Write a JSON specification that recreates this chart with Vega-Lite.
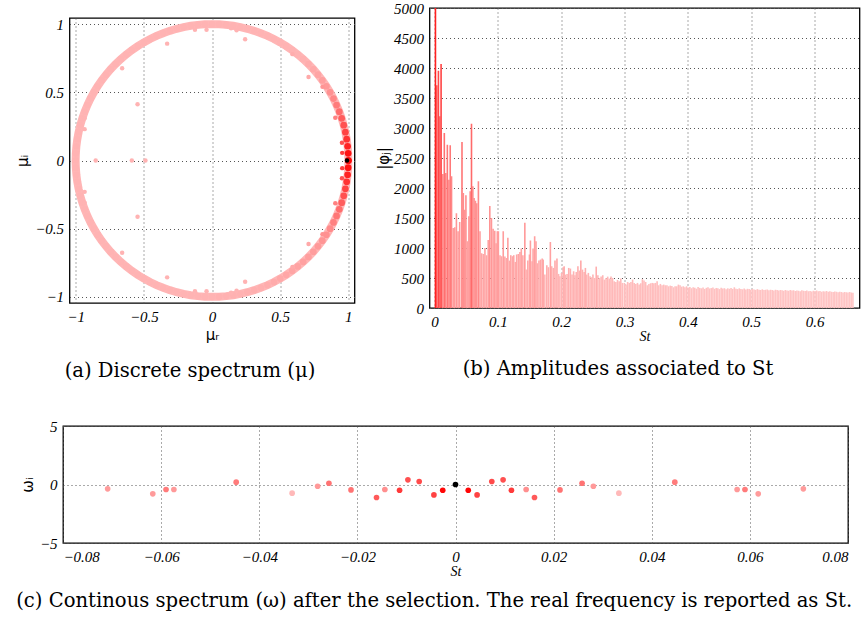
{
  "$schema": "https://vega.github.io/schema/vega-lite/v6.json",
  "background": "white",
  "padding": {"left": 12, "top": 0, "right": 0, "bottom": 0},
  "config": {
    "view": {"stroke": "black", "strokeWidth": 1.3},
    "style": {"guide-label": {"font": "Liberation Serif", "fontStyle": "italic", "fontSize": 15, "fill": "black"}},
    "axis": {"labelFont": "Liberation Serif", "labelFontStyle": "italic", "labelFontSize": 15, "labelColor": "black", "ticks": false, "domain": false, "grid": true, "gridColor": "#555", "gridDash": [1, 3], "gridWidth": 1, "titleFont": "DejaVu Sans", "titleFontWeight": "normal", "titleFontSize": 15, "titleColor": "black", "labelPadding": 6},
    "title": {"orient": "bottom", "font": "DejaVu Serif", "fontSize": 19.6, "fontWeight": "normal", "color": "black", "anchor": "middle", "frame": "bounds", "offset": 16}
  },
  "datasets": {
    "ring": [
      {"ang": 0, "x": 1, "y": 0, "a": 0.9},
      {"ang": 3, "x": 0.9986, "y": 0.0523, "a": 0.85},
      {"ang": 6, "x": 0.9945, "y": 0.1045, "a": 0.78},
      {"ang": 9, "x": 0.9877, "y": 0.1564, "a": 0.7},
      {"ang": 12, "x": 0.9781, "y": 0.2079, "a": 0.62},
      {"ang": 15, "x": 0.9659, "y": 0.2588, "a": 0.55},
      {"ang": 18, "x": 0.9511, "y": 0.309, "a": 0.48},
      {"ang": 21, "x": 0.9336, "y": 0.3584, "a": 0.4},
      {"ang": 24, "x": 0.9135, "y": 0.4067, "a": 0.33},
      {"ang": 27, "x": 0.891, "y": 0.454, "a": 0.27},
      {"ang": 30, "x": 0.866, "y": 0.5, "a": 0.22},
      {"ang": 33, "x": 0.8387, "y": 0.5446, "a": 0.18},
      {"ang": 36, "x": 0.809, "y": 0.5878, "a": 0.15},
      {"ang": 39, "x": 0.7771, "y": 0.6293, "a": 0.12},
      {"ang": 42, "x": 0.7431, "y": 0.6691, "a": 0.1},
      {"ang": 45, "x": 0.7071, "y": 0.7071, "a": 0.08},
      {"ang": 48, "x": 0.6691, "y": 0.7431, "a": 0.06},
      {"ang": 51, "x": 0.6293, "y": 0.7771, "a": 0.05},
      {"ang": 54, "x": 0.5878, "y": 0.809, "a": 0.05},
      {"ang": 57, "x": 0.5446, "y": 0.8387, "a": 0.05},
      {"ang": 60, "x": 0.5, "y": 0.866, "a": 0.05},
      {"ang": 63, "x": 0.454, "y": 0.891, "a": 0.05},
      {"ang": 66, "x": 0.4067, "y": 0.9135, "a": 0.05},
      {"ang": 69, "x": 0.3584, "y": 0.9336, "a": 0.05},
      {"ang": 72, "x": 0.309, "y": 0.9511, "a": 0.05},
      {"ang": 75, "x": 0.2588, "y": 0.9659, "a": 0.05},
      {"ang": 78, "x": 0.2079, "y": 0.9781, "a": 0.05},
      {"ang": 81, "x": 0.1564, "y": 0.9877, "a": 0.05},
      {"ang": 84, "x": 0.1045, "y": 0.9945, "a": 0.05},
      {"ang": 87, "x": 0.0523, "y": 0.9986, "a": 0.05},
      {"ang": 90, "x": 0, "y": 1, "a": 0.05},
      {"ang": 93, "x": -0.0523, "y": 0.9986, "a": 0.05},
      {"ang": 96, "x": -0.1045, "y": 0.9945, "a": 0.05},
      {"ang": 99, "x": -0.1564, "y": 0.9877, "a": 0.05},
      {"ang": 102, "x": -0.2079, "y": 0.9781, "a": 0.05},
      {"ang": 105, "x": -0.2588, "y": 0.9659, "a": 0.05},
      {"ang": 108, "x": -0.309, "y": 0.9511, "a": 0.05},
      {"ang": 111, "x": -0.3584, "y": 0.9336, "a": 0.05},
      {"ang": 114, "x": -0.4067, "y": 0.9135, "a": 0.05},
      {"ang": 117, "x": -0.454, "y": 0.891, "a": 0.05},
      {"ang": 120, "x": -0.5, "y": 0.866, "a": 0.05},
      {"ang": 123, "x": -0.5446, "y": 0.8387, "a": 0.05},
      {"ang": 126, "x": -0.5878, "y": 0.809, "a": 0.05},
      {"ang": 129, "x": -0.6293, "y": 0.7771, "a": 0.05},
      {"ang": 132, "x": -0.6691, "y": 0.7431, "a": 0.05},
      {"ang": 135, "x": -0.7071, "y": 0.7071, "a": 0.05},
      {"ang": 138, "x": -0.7431, "y": 0.6691, "a": 0.05},
      {"ang": 141, "x": -0.7771, "y": 0.6293, "a": 0.05},
      {"ang": 144, "x": -0.809, "y": 0.5878, "a": 0.05},
      {"ang": 147, "x": -0.8387, "y": 0.5446, "a": 0.05},
      {"ang": 150, "x": -0.866, "y": 0.5, "a": 0.05},
      {"ang": 153, "x": -0.891, "y": 0.454, "a": 0.05},
      {"ang": 156, "x": -0.9135, "y": 0.4067, "a": 0.05},
      {"ang": 159, "x": -0.9336, "y": 0.3584, "a": 0.05},
      {"ang": 162, "x": -0.9511, "y": 0.309, "a": 0.05},
      {"ang": 165, "x": -0.9659, "y": 0.2588, "a": 0.05},
      {"ang": 168, "x": -0.9781, "y": 0.2079, "a": 0.05},
      {"ang": 171, "x": -0.9877, "y": 0.1564, "a": 0.05},
      {"ang": 174, "x": -0.9945, "y": 0.1045, "a": 0.05},
      {"ang": 177, "x": -0.9986, "y": 0.0523, "a": 0.05},
      {"ang": 180, "x": -1, "y": 0, "a": 0.05},
      {"ang": 183, "x": -0.9986, "y": -0.0523, "a": 0.05},
      {"ang": 186, "x": -0.9945, "y": -0.1045, "a": 0.05},
      {"ang": 189, "x": -0.9877, "y": -0.1564, "a": 0.05},
      {"ang": 192, "x": -0.9781, "y": -0.2079, "a": 0.05},
      {"ang": 195, "x": -0.9659, "y": -0.2588, "a": 0.05},
      {"ang": 198, "x": -0.9511, "y": -0.309, "a": 0.05},
      {"ang": 201, "x": -0.9336, "y": -0.3584, "a": 0.05},
      {"ang": 204, "x": -0.9135, "y": -0.4067, "a": 0.05},
      {"ang": 207, "x": -0.891, "y": -0.454, "a": 0.05},
      {"ang": 210, "x": -0.866, "y": -0.5, "a": 0.05},
      {"ang": 213, "x": -0.8387, "y": -0.5446, "a": 0.05},
      {"ang": 216, "x": -0.809, "y": -0.5878, "a": 0.05},
      {"ang": 219, "x": -0.7771, "y": -0.6293, "a": 0.05},
      {"ang": 222, "x": -0.7431, "y": -0.6691, "a": 0.05},
      {"ang": 225, "x": -0.7071, "y": -0.7071, "a": 0.05},
      {"ang": 228, "x": -0.6691, "y": -0.7431, "a": 0.05},
      {"ang": 231, "x": -0.6293, "y": -0.7771, "a": 0.05},
      {"ang": 234, "x": -0.5878, "y": -0.809, "a": 0.05},
      {"ang": 237, "x": -0.5446, "y": -0.8387, "a": 0.05},
      {"ang": 240, "x": -0.5, "y": -0.866, "a": 0.05},
      {"ang": 243, "x": -0.454, "y": -0.891, "a": 0.05},
      {"ang": 246, "x": -0.4067, "y": -0.9135, "a": 0.05},
      {"ang": 249, "x": -0.3584, "y": -0.9336, "a": 0.05},
      {"ang": 252, "x": -0.309, "y": -0.9511, "a": 0.05},
      {"ang": 255, "x": -0.2588, "y": -0.9659, "a": 0.05},
      {"ang": 258, "x": -0.2079, "y": -0.9781, "a": 0.05},
      {"ang": 261, "x": -0.1564, "y": -0.9877, "a": 0.05},
      {"ang": 264, "x": -0.1045, "y": -0.9945, "a": 0.05},
      {"ang": 267, "x": -0.0523, "y": -0.9986, "a": 0.05},
      {"ang": 270, "x": 0, "y": -1, "a": 0.05},
      {"ang": 273, "x": 0.0523, "y": -0.9986, "a": 0.06},
      {"ang": 276, "x": 0.1045, "y": -0.9945, "a": 0.06},
      {"ang": 279, "x": 0.1564, "y": -0.9877, "a": 0.06},
      {"ang": 282, "x": 0.2079, "y": -0.9781, "a": 0.06},
      {"ang": 285, "x": 0.2588, "y": -0.9659, "a": 0.07},
      {"ang": 288, "x": 0.309, "y": -0.9511, "a": 0.07},
      {"ang": 291, "x": 0.3584, "y": -0.9336, "a": 0.07},
      {"ang": 294, "x": 0.4067, "y": -0.9135, "a": 0.08},
      {"ang": 297, "x": 0.454, "y": -0.891, "a": 0.09},
      {"ang": 300, "x": 0.5, "y": -0.866, "a": 0.1},
      {"ang": 303, "x": 0.5446, "y": -0.8387, "a": 0.11},
      {"ang": 306, "x": 0.5878, "y": -0.809, "a": 0.12},
      {"ang": 309, "x": 0.6293, "y": -0.7771, "a": 0.13},
      {"ang": 312, "x": 0.6691, "y": -0.7431, "a": 0.14},
      {"ang": 315, "x": 0.7071, "y": -0.7071, "a": 0.15},
      {"ang": 318, "x": 0.7431, "y": -0.6691, "a": 0.16},
      {"ang": 321, "x": 0.7771, "y": -0.6293, "a": 0.18},
      {"ang": 324, "x": 0.809, "y": -0.5878, "a": 0.2},
      {"ang": 327, "x": 0.8387, "y": -0.5446, "a": 0.22},
      {"ang": 330, "x": 0.866, "y": -0.5, "a": 0.25},
      {"ang": 333, "x": 0.891, "y": -0.454, "a": 0.3},
      {"ang": 336, "x": 0.9135, "y": -0.4067, "a": 0.35},
      {"ang": 339, "x": 0.9336, "y": -0.3584, "a": 0.4},
      {"ang": 342, "x": 0.9511, "y": -0.309, "a": 0.48},
      {"ang": 345, "x": 0.9659, "y": -0.2588, "a": 0.55},
      {"ang": 348, "x": 0.9781, "y": -0.2079, "a": 0.62},
      {"ang": 351, "x": 0.9877, "y": -0.1564, "a": 0.7},
      {"ang": 354, "x": 0.9945, "y": -0.1045, "a": 0.78},
      {"ang": 357, "x": 0.9986, "y": -0.0523, "a": 0.85},
      {"ang": 360, "x": 1, "y": 0, "a": 0.9}
    ],
    "extra": [
      {"x": -0.329, "y": 0.857, "a": 0.05}, {"x": -0.329, "y": -0.857, "a": 0.05},
      {"x": 0.243, "y": 0.889, "a": 0.05}, {"x": 0.243, "y": -0.889, "a": 0.05},
      {"x": -0.659, "y": 0.676, "a": 0.05}, {"x": -0.659, "y": -0.676, "a": 0.05},
      {"x": 0.708, "y": 0.612, "a": 0.1}, {"x": 0.708, "y": -0.612, "a": 0.1},
      {"x": -0.546, "y": 0.412, "a": 0.05}, {"x": -0.546, "y": -0.412, "a": 0.05},
      {"x": -0.853, "y": 0, "a": 0.05}, {"x": -0.588, "y": 0, "a": 0.05}, {"x": -0.488, "y": 0, "a": 0.05},
      {"x": -0.125, "y": 0.958, "a": 0.05}, {"x": -0.125, "y": -0.958, "a": 0.05},
      {"x": -0.04, "y": 0.958, "a": 0.05}, {"x": -0.04, "y": -0.958, "a": 0.05},
      {"x": 0.14, "y": 0.97, "a": 0.05}, {"x": 0.14, "y": -0.97, "a": 0.05},
      {"x": 0.18, "y": 0.955, "a": 0.05}, {"x": 0.18, "y": -0.955, "a": 0.05},
      {"x": -0.934, "y": 0.31, "a": 0.05}, {"x": -0.934, "y": -0.31, "a": 0.05},
      {"x": -0.934, "y": 0.23, "a": 0.05}, {"x": -0.934, "y": -0.23, "a": 0.05},
      {"x": 0.904, "y": 0.313, "a": 0.3}, {"x": 0.904, "y": -0.313, "a": 0.3},
      {"x": 0.953, "y": 0.13, "a": 0.55}, {"x": 0.953, "y": -0.13, "a": 0.55},
      {"x": 0.955, "y": 0.056, "a": 0.65}, {"x": 0.955, "y": -0.056, "a": 0.65},
      {"x": 0.59, "y": 0.78, "a": 0.08}, {"x": 0.59, "y": -0.78, "a": 0.1},
      {"x": 0.81, "y": 0.54, "a": 0.2}, {"x": 0.81, "y": -0.54, "a": 0.22},
      {"x": 0.99, "y": 0, "a": 1}
    ],
    "amp": [
      {"St": 0.0015, "amp": 5000}, {"St": 0.0036, "amp": 3711}, {"St": 0.0062, "amp": 3956}, {"St": 0.0083, "amp": 3194}, {"St": 0.0104, "amp": 4067},
      {"St": 0.0132, "amp": 2233}, {"St": 0.0155, "amp": 2917}, {"St": 0.0178, "amp": 2250}, {"St": 0.0203, "amp": 2722}, {"St": 0.0227, "amp": 2139},
      {"St": 0.0248, "amp": 2711}, {"St": 0.0269, "amp": 2194}, {"St": 0.0295, "amp": 1333}, {"St": 0.032, "amp": 1344}, {"St": 0.0346, "amp": 1578},
      {"St": 0.0372, "amp": 1278}, {"St": 0.0398, "amp": 1433}, {"St": 0.0434, "amp": 2767}, {"St": 0.0455, "amp": 1917}, {"St": 0.0475, "amp": 1639},
      {"St": 0.0496, "amp": 1878}, {"St": 0.0517, "amp": 1111}, {"St": 0.0543, "amp": 1528}, {"St": 0.0563, "amp": 1944}, {"St": 0.0584, "amp": 3072},
      {"St": 0.0605, "amp": 2028}, {"St": 0.0625, "amp": 1833}, {"St": 0.0646, "amp": 1789}, {"St": 0.0667, "amp": 1744}, {"St": 0.0693, "amp": 2111},
      {"St": 0.0718, "amp": 1278}, {"St": 0.0744, "amp": 911}, {"St": 0.077, "amp": 900}, {"St": 0.0796, "amp": 1000}, {"St": 0.0822, "amp": 878},
      {"St": 0.0848, "amp": 1133}, {"St": 0.0873, "amp": 1700}, {"St": 0.0899, "amp": 1500}, {"St": 0.0925, "amp": 1322}, {"St": 0.0951, "amp": 1289},
      {"St": 0.0972, "amp": 1078}, {"St": 0.0992, "amp": 1278},
      {"St": 0.1008, "amp": 1280}, {"St": 0.1034, "amp": 880}, {"St": 0.1059, "amp": 863}, {"St": 0.1085, "amp": 1280}, {"St": 0.1111, "amp": 857},
      {"St": 0.1137, "amp": 835}, {"St": 0.1158, "amp": 1170}, {"St": 0.1183, "amp": 790}, {"St": 0.1204, "amp": 880}, {"St": 0.123, "amp": 863},
      {"St": 0.1251, "amp": 880}, {"St": 0.1276, "amp": 768}, {"St": 0.1297, "amp": 890}, {"St": 0.1323, "amp": 900}, {"St": 0.1349, "amp": 935},
      {"St": 0.137, "amp": 990}, {"St": 0.1395, "amp": 880}, {"St": 0.1426, "amp": 1420}, {"St": 0.1447, "amp": 640}, {"St": 0.1473, "amp": 790},
      {"St": 0.1499, "amp": 890}, {"St": 0.1514, "amp": 1125}, {"St": 0.154, "amp": 780}, {"St": 0.1556, "amp": 990}, {"St": 0.1581, "amp": 1197},
      {"St": 0.1602, "amp": 1114}, {"St": 0.1623, "amp": 746}, {"St": 0.1649, "amp": 790}, {"St": 0.1674, "amp": 807}, {"St": 0.17, "amp": 824},
      {"St": 0.1716, "amp": 807}, {"St": 0.1742, "amp": 557}, {"St": 0.1773, "amp": 713}, {"St": 0.1798, "amp": 680}, {"St": 0.1829, "amp": 1102},
      {"St": 0.185, "amp": 696}, {"St": 0.1876, "amp": 668}, {"St": 0.1902, "amp": 790}, {"St": 0.1933, "amp": 824}, {"St": 0.1959, "amp": 568},
      {"St": 0.1979, "amp": 529},
      {"St": 0.2005, "amp": 585}, {"St": 0.2031, "amp": 680}, {"St": 0.2047, "amp": 696}, {"St": 0.2067, "amp": 557}, {"St": 0.2093, "amp": 568},
      {"St": 0.2119, "amp": 668}, {"St": 0.2145, "amp": 657}, {"St": 0.2171, "amp": 557}, {"St": 0.2196, "amp": 612}, {"St": 0.2217, "amp": 546},
      {"St": 0.2238, "amp": 601}, {"St": 0.2264, "amp": 696}, {"St": 0.2289, "amp": 624}, {"St": 0.231, "amp": 790}, {"St": 0.2336, "amp": 640},
      {"St": 0.2362, "amp": 601}, {"St": 0.2382, "amp": 668}, {"St": 0.2403, "amp": 557}, {"St": 0.2429, "amp": 585}, {"St": 0.2455, "amp": 529},
      {"St": 0.2481, "amp": 512}, {"St": 0.2501, "amp": 557}, {"St": 0.2527, "amp": 501}, {"St": 0.2553, "amp": 690}, {"St": 0.2579, "amp": 546},
      {"St": 0.2605, "amp": 501}, {"St": 0.263, "amp": 523}, {"St": 0.2656, "amp": 546}, {"St": 0.2682, "amp": 473}, {"St": 0.2708, "amp": 501},
      {"St": 0.2734, "amp": 523}, {"St": 0.276, "amp": 490}, {"St": 0.2786, "amp": 523}, {"St": 0.2811, "amp": 501}, {"St": 0.2837, "amp": 445},
      {"St": 0.2863, "amp": 434}, {"St": 0.2889, "amp": 468}, {"St": 0.2915, "amp": 445}, {"St": 0.2941, "amp": 490}, {"St": 0.2966, "amp": 418},
      {"St": 0.2997, "amp": 418}, {"St": 0.3023, "amp": 390}, {"St": 0.3049, "amp": 434}, {"St": 0.3075, "amp": 418}, {"St": 0.3101, "amp": 434},
      {"St": 0.3127, "amp": 473}, {"St": 0.3152, "amp": 418}, {"St": 0.3178, "amp": 401}, {"St": 0.3204, "amp": 418}, {"St": 0.323, "amp": 390},
      {"St": 0.3256, "amp": 412}, {"St": 0.3282, "amp": 479}, {"St": 0.3307, "amp": 457}, {"St": 0.3333, "amp": 434}, {"St": 0.3359, "amp": 379},
      {"St": 0.3385, "amp": 401}, {"St": 0.3411, "amp": 412}, {"St": 0.3437, "amp": 418}, {"St": 0.3463, "amp": 412}, {"St": 0.3488, "amp": 418},
      {"St": 0.3514, "amp": 445}, {"St": 0.354, "amp": 379}, {"St": 0.3566, "amp": 401}, {"St": 0.3592, "amp": 379}, {"St": 0.3618, "amp": 390},
      {"St": 0.3643, "amp": 379}, {"St": 0.3669, "amp": 379}, {"St": 0.3695, "amp": 362}, {"St": 0.3721, "amp": 373}, {"St": 0.3747, "amp": 367},
      {"St": 0.3773, "amp": 345}, {"St": 0.3798, "amp": 362}, {"St": 0.3824, "amp": 362}, {"St": 0.385, "amp": 390}, {"St": 0.3876, "amp": 379},
      {"St": 0.3902, "amp": 356}, {"St": 0.3928, "amp": 362}, {"St": 0.3953, "amp": 345}, {"St": 0.3979, "amp": 362},
      {"St": 0.4005, "amp": 340}, {"St": 0.4031, "amp": 352}, {"St": 0.4057, "amp": 330}, {"St": 0.4083, "amp": 345}, {"St": 0.4109, "amp": 338},
      {"St": 0.4135, "amp": 322}, {"St": 0.4161, "amp": 350}, {"St": 0.4187, "amp": 335}, {"St": 0.4213, "amp": 328}, {"St": 0.4239, "amp": 340},
      {"St": 0.4265, "amp": 318}, {"St": 0.4291, "amp": 336}, {"St": 0.4317, "amp": 345}, {"St": 0.4343, "amp": 326}, {"St": 0.4369, "amp": 332},
      {"St": 0.4395, "amp": 340}, {"St": 0.4421, "amp": 320}, {"St": 0.4447, "amp": 334}, {"St": 0.4473, "amp": 328}, {"St": 0.4499, "amp": 315},
      {"St": 0.4525, "amp": 336}, {"St": 0.4551, "amp": 325}, {"St": 0.4577, "amp": 330}, {"St": 0.4603, "amp": 312}, {"St": 0.4629, "amp": 328},
      {"St": 0.4655, "amp": 320}, {"St": 0.4681, "amp": 335}, {"St": 0.4707, "amp": 318}, {"St": 0.4733, "amp": 345}, {"St": 0.4759, "amp": 322},
      {"St": 0.4785, "amp": 315}, {"St": 0.4811, "amp": 328}, {"St": 0.4837, "amp": 318}, {"St": 0.4863, "amp": 312}, {"St": 0.4889, "amp": 325},
      {"St": 0.4915, "amp": 308}, {"St": 0.4941, "amp": 320}, {"St": 0.4967, "amp": 315}, {"St": 0.4993, "amp": 305}, {"St": 0.5019, "amp": 318},
      {"St": 0.5045, "amp": 310}, {"St": 0.5071, "amp": 302}, {"St": 0.5097, "amp": 315}, {"St": 0.5123, "amp": 306}, {"St": 0.5149, "amp": 300},
      {"St": 0.5175, "amp": 312}, {"St": 0.5201, "amp": 298}, {"St": 0.5227, "amp": 305}, {"St": 0.5253, "amp": 310}, {"St": 0.5279, "amp": 296},
      {"St": 0.5305, "amp": 304}, {"St": 0.5331, "amp": 300}, {"St": 0.5357, "amp": 292}, {"St": 0.5383, "amp": 306}, {"St": 0.5409, "amp": 298},
      {"St": 0.5435, "amp": 290}, {"St": 0.5461, "amp": 302}, {"St": 0.5487, "amp": 295}, {"St": 0.5513, "amp": 288}, {"St": 0.5539, "amp": 300},
      {"St": 0.5565, "amp": 293}, {"St": 0.5591, "amp": 286}, {"St": 0.5617, "amp": 298}, {"St": 0.5643, "amp": 290}, {"St": 0.5669, "amp": 296},
      {"St": 0.5695, "amp": 284}, {"St": 0.5721, "amp": 292}, {"St": 0.5747, "amp": 288}, {"St": 0.5773, "amp": 280}, {"St": 0.5799, "amp": 294},
      {"St": 0.5825, "amp": 286}, {"St": 0.5851, "amp": 282}, {"St": 0.5877, "amp": 290}, {"St": 0.5903, "amp": 278}, {"St": 0.5929, "amp": 285},
      {"St": 0.5955, "amp": 276}, {"St": 0.5981, "amp": 288}, {"St": 0.6007, "amp": 282}, {"St": 0.6033, "amp": 290}, {"St": 0.6059, "amp": 278},
      {"St": 0.6085, "amp": 284}, {"St": 0.6111, "amp": 272}, {"St": 0.6137, "amp": 280}, {"St": 0.6163, "amp": 275}, {"St": 0.6189, "amp": 283},
      {"St": 0.6215, "amp": 270}, {"St": 0.6241, "amp": 278}, {"St": 0.6267, "amp": 272}, {"St": 0.6293, "amp": 266}, {"St": 0.6319, "amp": 276},
      {"St": 0.6345, "amp": 270}, {"St": 0.6371, "amp": 264}, {"St": 0.6397, "amp": 272}, {"St": 0.6423, "amp": 266}, {"St": 0.6449, "amp": 260},
      {"St": 0.6475, "amp": 268}, {"St": 0.6501, "amp": 262}, {"St": 0.6527, "amp": 258}, {"St": 0.6553, "amp": 265}, {"St": 0.6579, "amp": 260},
      {"St": 0.6605, "amp": 256}
    ],
    "cont": [
      {"St": -0.0709, "w": -0.37, "a": 0.17}, {"St": 0.0709, "w": -0.37, "a": 0.17},
      {"St": -0.0617, "w": -0.8, "a": 0.17}, {"St": 0.0617, "w": -0.8, "a": 0.17},
      {"St": -0.059, "w": -0.43, "a": 0.33}, {"St": 0.059, "w": -0.43, "a": 0.33},
      {"St": -0.0574, "w": -0.43, "a": 0.18}, {"St": 0.0574, "w": -0.43, "a": 0.18},
      {"St": -0.0447, "w": 0.2, "a": 0.33}, {"St": 0.0447, "w": 0.2, "a": 0.33},
      {"St": -0.0333, "w": -0.74, "a": 0.02}, {"St": 0.0333, "w": -0.74, "a": 0.02},
      {"St": -0.0281, "w": -0.15, "a": 0.18}, {"St": 0.0281, "w": -0.15, "a": 0.18},
      {"St": -0.0258, "w": 0.11, "a": 0.37}, {"St": 0.0258, "w": 0.11, "a": 0.37},
      {"St": -0.0213, "w": -0.46, "a": 0.37}, {"St": 0.0213, "w": -0.46, "a": 0.37},
      {"St": -0.0161, "w": -1.11, "a": 0.5}, {"St": 0.0161, "w": -1.11, "a": 0.5},
      {"St": -0.0144, "w": -0.43, "a": 0.23}, {"St": 0.0144, "w": -0.43, "a": 0.23},
      {"St": -0.0114, "w": -0.49, "a": 0.66}, {"St": 0.0114, "w": -0.49, "a": 0.66},
      {"St": -0.0097, "w": 0.4, "a": 0.55}, {"St": 0.0097, "w": 0.4, "a": 0.55},
      {"St": -0.0074, "w": 0.26, "a": 0.58}, {"St": 0.0074, "w": 0.26, "a": 0.58},
      {"St": -0.0044, "w": -0.89, "a": 0.62}, {"St": 0.0044, "w": -0.89, "a": 0.62},
      {"St": -0.0026, "w": -0.49, "a": 0.92}, {"St": 0.0026, "w": -0.49, "a": 0.92},
      {"St": 0, "w": 0, "a": 1}
    ]
  },
  "resolve": {"scale": {"color": "independent"}},
  "spacing": 36,
  "vconcat": [
    {
      "spacing": 9.5,
      "resolve": {"scale": {"color": "independent"}},
      "hconcat": [
        {
          "spacing": -2,
          "vconcat": [
            {"width": 1, "height": 1, "view": {"stroke": null}, "data": {"values": []}, "mark": {"type": "point", "opacity": 0}, "encoding": {}},
            {
              "spacing": -49.5,
              "hconcat": [
                {"width": 1, "height": 1, "view": {"stroke": null}, "data": {"values": []}, "mark": {"type": "point", "opacity": 0}, "encoding": {}},
                {
                  "width": 285,
                  "height": 285,
                  "title": {"text": "(a)  Discrete spectrum (μ)", "offset": 20},
                  "layer": [
                    {
                      "data": {"name": "ring"},
                      "mark": {"type": "line", "strokeWidth": 8, "color": "#ffb6b6"},
                      "encoding": {
                        "x": {"field": "x", "type": "quantitative", "scale": {"domain": [-1.045, 1.045], "nice": false, "zero": false}, "axis": {"values": [-1, -0.5, 0, 0.5, 1], "format": "~g", "title": "μᵣ", "titlePadding": 3}},
                        "y": {"field": "y", "type": "quantitative", "scale": {"domain": [-1.045, 1.045], "nice": false, "zero": false}, "axis": {"values": [-1, -0.5, 0, 0.5, 1], "format": "~g", "title": "μᵢ", "titlePadding": 4}},
                        "order": {"field": "ang", "type": "quantitative"}
                      }
                    },
                    {
                      "data": {"name": "ring"},
                      "mark": {"type": "circle", "size": 45, "opacity": 1},
                      "encoding": {
                        "x": {"field": "x", "type": "quantitative"},
                        "y": {"field": "y", "type": "quantitative"},
                        "color": {"field": "a", "type": "quantitative", "scale": {"domain": [0, 0.95, 1], "range": ["#ffbdbd", "#ff0000", "#000000"], "interpolate": "rgb"}, "legend": null},
                        "order": {"field": "a", "type": "quantitative"}
                      }
                    },
                    {
                      "data": {"name": "extra"},
                      "mark": {"type": "circle", "size": 20, "opacity": 1},
                      "encoding": {
                        "x": {"field": "x", "type": "quantitative"},
                        "y": {"field": "y", "type": "quantitative"},
                        "color": {"field": "a", "type": "quantitative", "legend": null},
                        "order": {"field": "a", "type": "quantitative"}
                      }
                    }
                  ]
                }
              ]
            }
          ]
        },
        {
          "width": 430,
          "height": 300,
          "title": {"text": "(b)  Amplitudes associated to St", "offset": 17},
          "data": {"name": "amp"},
          "mark": {"type": "bar", "width": 1.6, "clip": true},
          "encoding": {
            "x": {"field": "St", "type": "quantitative", "scale": {"domain": [0, 0.663], "nice": false, "zero": false}, "axis": {"values": [0, 0.1, 0.2, 0.3, 0.4, 0.5, 0.6], "format": "~g", "title": "St", "titleFont": "Liberation Serif", "titleFontStyle": "italic", "titleFontSize": 14, "titlePadding": 0}},
            "y": {"field": "amp", "type": "quantitative", "scale": {"domain": [0, 5000], "nice": false}, "axis": {"values": [0, 500, 1000, 1500, 2000, 2500, 3000, 3500, 4000, 4500, 5000], "format": "d", "title": "|φⱼ|", "titlePadding": 2}},
            "color": {"field": "amp", "type": "quantitative", "scale": {"domain": [250, 800, 2500, 5000], "range": ["#ffc6c6", "#ffa8a8", "#ff8080", "#ff2020"], "interpolate": "rgb"}, "legend": null}
          }
        }
      ]
    },
    {
      "width": 785,
      "height": 117,
      "title": {"text": "(c)  Continous spectrum (ω) after the selection. The real frequency is reported as St.", "offset": 14},
      "data": {"name": "cont"},
      "mark": {"type": "circle", "size": 32, "opacity": 1},
      "encoding": {
        "x": {"field": "St", "type": "quantitative", "scale": {"domain": [-0.08, 0.08], "nice": false, "zero": false}, "axis": {"values": [-0.08, -0.06, -0.04, -0.02, 0, 0.02, 0.04, 0.06, 0.08], "format": "~g", "title": "St", "titleFont": "Liberation Serif", "titleFontStyle": "italic", "titleFontSize": 14, "titlePadding": 0}},
        "y": {"field": "w", "type": "quantitative", "scale": {"domain": [-5, 5], "nice": false}, "axis": {"values": [-5, 0, 5], "format": "~g", "title": "ωᵢ", "titlePadding": 4}},
        "color": {"field": "a", "type": "quantitative", "scale": {"domain": [0, 0.95, 1], "range": ["#ffbdbd", "#ff0000", "#000000"], "interpolate": "rgb"}, "legend": null},
        "order": {"field": "a", "type": "quantitative"}
      }
    }
  ]
}
